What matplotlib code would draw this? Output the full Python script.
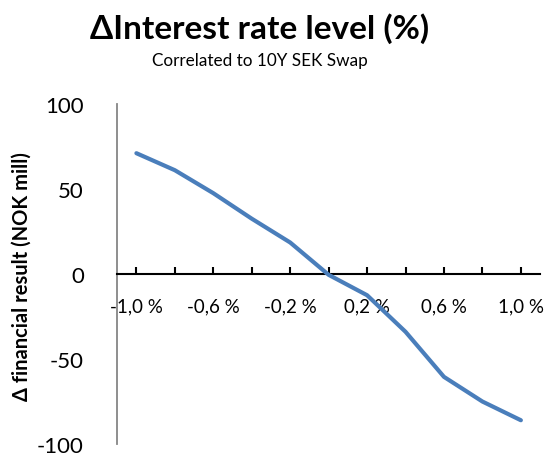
import matplotlib
matplotlib.use("Agg")
import numpy as np
from matplotlib.pyplot import figure

# Data
rateChange = [-1.0, -0.8, -0.6, -0.4, -0.2, 0.0, 0.2, 0.4, 0.6, 0.8, 1.0]
result = [71, 61, 47.5, 32.5, 18.5, -0.5, -12.5, -34, -60.5, -75, -86]
xLabels = ["-1,0 %", "", "-0,6 %", "", "-0,2 %", "", "0,2 %", "", "0,6 %", "", "1,0 %"]
yTicks = [-100, -50, 0, 50, 100]

font = ["Lato", "DejaVu Sans"]

fig = figure(figsize=(5.45, 4.56), dpi=100)
frame = fig.add_axes([0.215, 0.024, 0.776, 0.746])

frame.plot(rateChange, result, color="#4a7ebb", lw=3, solid_capstyle="round",
           solid_joinstyle="round", zorder=3)

# Axes
frame.set_xlim(-1.1, 1.1)
frame.set_ylim(-100, 100)

frame.spines["top"].set_visible(False)
frame.spines["right"].set_visible(False)
frame.spines["bottom"].set_position(("data", 0))
frame.spines["bottom"].set_color("black")
frame.spines["bottom"].set_linewidth(1.5)
frame.spines["left"].set_color("#868686")
frame.spines["left"].set_linewidth(1.3)

frame.set_xticks(rateChange)
frame.set_xticklabels(xLabels, family=font, fontsize=13.5)
frame.tick_params(axis="x", direction="in", length=5, width=1.5, pad=17)

frame.set_yticks(yTicks)
frame.set_yticklabels([str(v) for v in yTicks], family=font, fontsize=16)
frame.tick_params(axis="y", length=0, pad=24)

frame.set_ylabel("Δ financial result (NOK mill)", family=font, fontsize=14.5,
                 fontweight="bold")
frame.yaxis.set_label_coords(32 / 545, 0.394, transform=fig.transFigure)

# Titles
fig.text(0.477, 0.937, "ΔInterest rate level (%)", family=font, fontsize=24,
         fontweight="bold", ha="center", va="center")
fig.text(0.477, 0.866, "Correlated to 10Y SEK Swap", family=font, fontsize=12.3,
         ha="center", va="center")

fig.savefig("out.png", dpi=100)
